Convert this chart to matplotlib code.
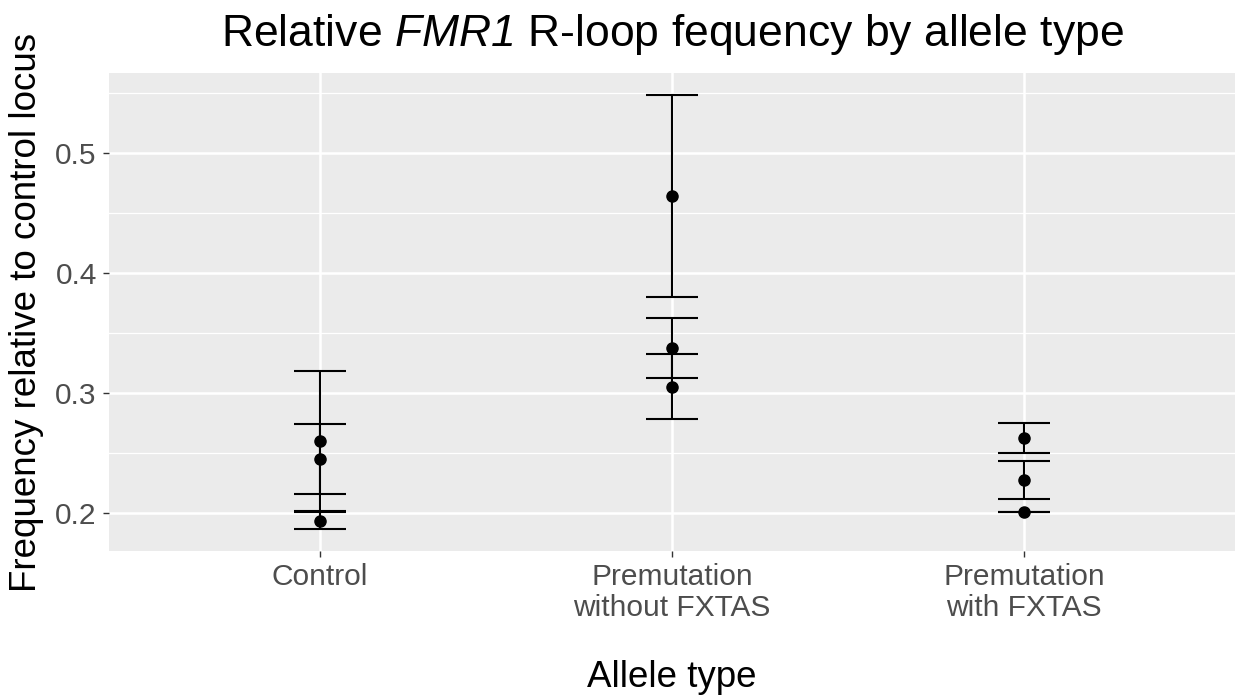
import matplotlib
matplotlib.use("Agg")
import matplotlib.pyplot as plt

plt.rcParams['font.family'] = ['Liberation Sans', 'DejaVu Sans']
plt.rcParams['mathtext.fontset'] = 'custom'
plt.rcParams['mathtext.rm'] = 'Liberation Sans:italic'
plt.rcParams['mathtext.it'] = 'Liberation Sans:italic'

categories = ["Control", "Premutation\nwithout FXTAS", "Premutation\nwith FXTAS"]
# three replicate points per category, with error (half-width)
control_vals = [0.260, 0.2448, 0.1936]
control_err = [0.0583, 0.0292, 0.0073]
pm_no_vals = [0.4642, 0.3375, 0.3053]
pm_no_err = [0.0842, 0.0254, 0.0271]
pm_fx_vals = [0.2628, 0.2275, 0.2008]
pm_fx_err = [0.0125, 0.0157, 0.0]

y_ticks = [0.2, 0.3, 0.4, 0.5]
y_minor = [0.25, 0.35, 0.45, 0.55]

fig = plt.figure(figsize=(12.38, 6.98), dpi=100)
ax = fig.add_axes([109/1238, 1 - 550.7/698, (1235-109)/1238, (550.7-73.3)/698])
ax.set_facecolor('#EBEBEB')
for s in ax.spines.values():
    s.set_visible(False)

ax.set_xlim(0.4, 3.6)
ax.set_ylim(0.1686, 0.5664)

for y in y_minor:
    ax.axhline(y, color='white', lw=0.9, zorder=0)
for y in y_ticks:
    ax.axhline(y, color='white', lw=1.8, zorder=0)
for x in [1, 2, 3]:
    ax.axvline(x, color='white', lw=1.8, zorder=0)

groups = [(control_vals, control_err), (pm_no_vals, pm_no_err), (pm_fx_vals, pm_fx_err)]
for i, (vals, errs) in enumerate(groups):
    xs = [i + 1] * len(vals)
    ax.errorbar(xs, vals, yerr=errs, fmt='none', ecolor='black', elinewidth=1.5,
                capsize=26.5 * 72 / 100, capthick=1.5, zorder=2)
    ax.plot(xs, vals, 'o', color='black', markersize=8, zorder=3)

ax.set_xticks([1, 2, 3])
ax.set_xticklabels(categories, fontsize=21.5, color='#4D4D4D', linespacing=1.12)
ax.set_yticks(y_ticks)
ax.set_yticklabels(['0.2', '0.3', '0.4', '0.5'], fontsize=21.5, color='#4D4D4D')
ax.tick_params(axis='both', length=4.5, width=1.0, color='#333333', pad=4.3)

ax.set_xlabel('Allele type', fontsize=26.5, labelpad=28)
ax.set_ylabel('Frequency relative to control locus', fontsize=26.5, labelpad=8)
ax.set_title('Relative $FMR1$ R-loop fequency by allele type', fontsize=32, pad=20)

fig.savefig('out.png', dpi=100)
